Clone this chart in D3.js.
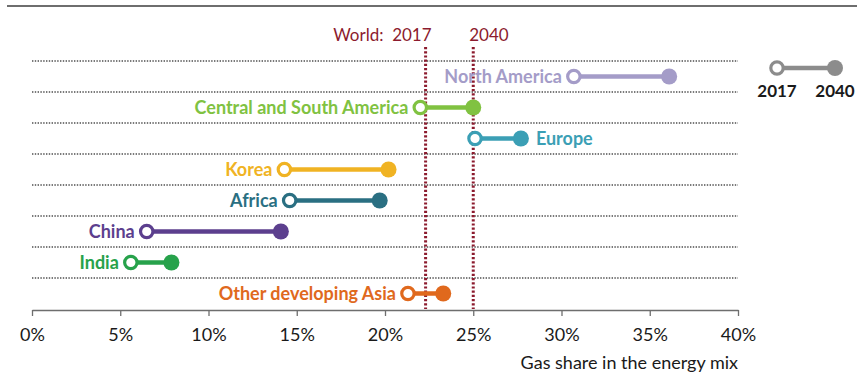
<!DOCTYPE html>
<html>
<head>
<meta charset="utf-8">
<script src="https://cdn.jsdelivr.net/npm/d3@7"></script>
<style>
  body { margin: 0; background: #fff; }
  svg { font-family: Lato, "Open Sans", sans-serif; }
</style>
</head>
<body>
<svg id="drawing_region"></svg>
<script>
// gas share per region, 2017 and 2040 (%)
const regions = ["North America", "Central and South America", "Europe", "Korea", "Africa", "China", "India", "Other developing Asia"];
const share2017 = [30.7, 22.0, 25.1, 14.3, 14.6, 6.5, 5.6, 21.3];
const share2040 = [36.1, 25.0, 27.7, 20.2, 19.7, 14.1, 7.9, 23.3];
const regionColors = ["#a49cc8", "#80c241", "#3b9fb5", "#f0b323", "#2a6f82", "#5c3f8e", "#27a24b", "#e0691d"];
const labelRight = [false, false, true, false, false, false, false, false];
const worldYears = ["2017", "2040"];
const worldShare = [22.3, 25.0];
const xTicks = [0, 5, 10, 15, 20, 25, 30, 35, 40];

const config = {
  width: 865,
  height: 375,
  plot: { left: 32, right: 738, top: 61, bottom: 309 }
};

const svg = d3.select("#drawing_region")
  .attr("width", config.width)
  .attr("height", config.height);

const x = d3.scaleLinear().domain([0, 40]).range([config.plot.left, config.plot.right]);
const y = d3.scaleBand().domain(regions).range([config.plot.top, config.plot.bottom]);

// top rule
svg.append("line")
  .attr("x1", 7).attr("x2", 857)
  .attr("y1", 6).attr("y2", 6)
  .attr("stroke", "#6e6e6e")
  .attr("stroke-width", 2);

// dotted row separators
svg.append("g").selectAll("line")
  .data(regions)
  .join("line")
  .attr("x1", x(0)).attr("x2", x(40))
  .attr("y1", d => y(d)).attr("y2", d => y(d))
  .attr("stroke", "#7a7a7a")
  .attr("stroke-width", 1.8)
  .attr("stroke-dasharray", "1.4,1.4");

// x axis
const xAxis = d3.axisBottom(x)
  .tickValues(xTicks)
  .tickFormat(d => d + "%")
  .tickSize(6)
  .tickSizeOuter(0);

const axisG = svg.append("g")
  .attr("transform", `translate(0,${config.plot.bottom + 1})`)
  .call(xAxis);
axisG.select(".domain").attr("stroke", "#6e6e6e").attr("stroke-width", 1.3);
axisG.selectAll(".tick line").attr("stroke", "#6e6e6e").attr("stroke-width", 1.3);
axisG.selectAll(".tick text")
  .attr("y", 18)
  .attr("fill", "#1a1a1a")
  .style("font-size", "18px")
  .style("font-family", "Lato, sans-serif");

svg.append("text")
  .attr("x", x(40))
  .attr("y", 369)
  .attr("text-anchor", "end")
  .attr("fill", "#1a1a1a")
  .style("font-size", "18px")
  .text("Gas share in the energy mix");

// world reference lines
svg.append("g").selectAll("line")
  .data(worldShare)
  .join("line")
  .attr("x1", d => x(d)).attr("x2", d => x(d))
  .attr("y1", 47).attr("y2", config.plot.bottom)
  .attr("stroke", "#8c1b2e")
  .attr("stroke-width", 3)
  .attr("stroke-dasharray", "2.2,2");

svg.append("text")
  .attr("x", x(worldShare[0]) + 6)
  .attr("y", 41)
  .attr("text-anchor", "end")
  .attr("fill", "#8c1b2e")
  .style("font-size", "17px")
  .style("white-space", "pre")
  .text("World:  " + worldYears[0]);

svg.append("text")
  .attr("x", x(worldShare[1]) - 4)
  .attr("y", 41)
  .attr("fill", "#8c1b2e")
  .style("font-size", "17px")
  .text(worldYears[1]);

// dumbbells
const rows = svg.append("g").selectAll("g")
  .data(regions)
  .join("g")
  .attr("transform", d => `translate(0,${y(d) + y.bandwidth() / 2})`);

rows.append("line")
  .attr("x1", (d, i) => x(share2017[i]))
  .attr("x2", (d, i) => x(share2040[i]))
  .attr("stroke", (d, i) => regionColors[i])
  .attr("stroke-width", 4.5);

rows.append("circle")
  .attr("cx", (d, i) => x(share2017[i]))
  .attr("r", 6.2)
  .attr("fill", "#fff")
  .attr("stroke", (d, i) => regionColors[i])
  .attr("stroke-width", 3.2);

rows.append("circle")
  .attr("cx", (d, i) => x(share2040[i]))
  .attr("r", 8)
  .attr("fill", (d, i) => regionColors[i]);

rows.append("text")
  .attr("x", (d, i) => labelRight[i] ? x(share2040[i]) + 15 : x(share2017[i]) - 12)
  .attr("dy", "0.35em")
  .attr("text-anchor", (d, i) => labelRight[i] ? "start" : "end")
  .attr("fill", (d, i) => regionColors[i])
  .style("font-size", "18px")
  .style("font-weight", "bold")
  .text(d => d);

// legend
const legend = svg.append("g").attr("transform", "translate(0,68)");
const legendX = [777, 835];
legend.append("line")
  .attr("x1", legendX[0]).attr("x2", legendX[1])
  .attr("stroke", "#8c8c8c").attr("stroke-width", 4.5);
legend.append("circle")
  .attr("cx", legendX[0]).attr("r", 6.2)
  .attr("fill", "#fff").attr("stroke", "#8c8c8c").attr("stroke-width", 3.2);
legend.append("circle")
  .attr("cx", legendX[1]).attr("r", 8)
  .attr("fill", "#8c8c8c");
legend.selectAll("text")
  .data(worldYears)
  .join("text")
  .attr("x", (d, i) => legendX[i])
  .attr("y", 29)
  .attr("text-anchor", "middle")
  .attr("fill", "#1a1a1a")
  .style("font-size", "17px")
  .style("font-weight", "bold")
  .text(d => d);
</script>
</body>
</html>
